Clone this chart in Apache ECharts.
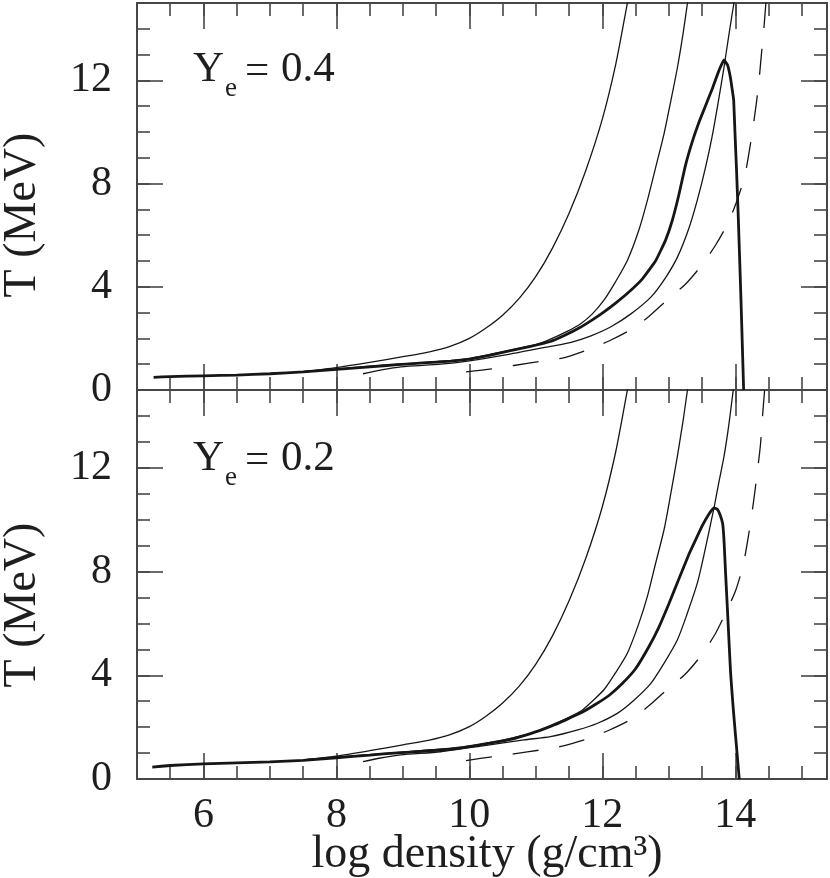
<!DOCTYPE html>
<html>
<head>
<meta charset="utf-8">
<script src="https://cdn.jsdelivr.net/npm/echarts@6/dist/echarts.min.js"></script>
<style>
html,body{margin:0;padding:0;background:#fff;}
#chart{width:830px;height:878px;}
</style>
</head>
<body>
<div id="chart"></div>
<script>
// ---- axis ticks / labels ----
const xMajorTicks = [6, 8, 10, 12, 14];
const yMajorTicks = [0, 4, 8, 12];
const xRange = [5, 15.38];
const yRange = [0, 15];
const xTitle = 'log density (g/cm³)';
const yTitle = 'T (MeV)';
const panelLabels = ['0.4', '0.2'];

// ---- top panel (Ye = 0.4) ----
const topThick = [[5.25,0.49],[5.5,0.52],[6.0,0.55],[6.5,0.58],[7.0,0.63],[7.5,0.70],[8.0,0.80],[8.5,0.90],[8.92,0.98],[9.3,1.05],[9.72,1.12],[10.0,1.2],[10.3,1.34],[10.6,1.52],[10.92,1.69],[11.22,1.88],[11.42,2.1],[11.65,2.4],[11.85,2.72],[12.0,2.98],[12.2,3.37],[12.4,3.8],[12.6,4.3],[12.8,5.0],[12.95,5.8],[13.05,6.55],[13.15,7.55],[13.25,8.7],[13.35,9.6],[13.45,10.35],[13.55,11.0],[13.65,11.65],[13.75,12.35],[13.83,12.79],[13.885,12.59],[13.925,12.14],[13.955,11.63],[13.976,11.24],[13.996,9.95],[14.021,8.4],[14.045,6.72],[14.086,3.5],[14.126,0.0]];
const topA = [[7.5,0.71],[8.0,0.87],[8.5,1.07],[9.0,1.29],[9.4,1.48],[9.7,1.68],[10.0,2.0],[10.25,2.4],[10.5,2.9],[10.75,3.55],[11.0,4.4],[11.25,5.5],[11.5,6.85],[11.75,8.5],[12.0,10.5],[12.2,12.6],[12.37,14.9],[12.45,16.0]];
const topB = [[7.5,0.71],[8.0,0.81],[8.5,0.92],[9.0,1.01],[9.5,1.1],[10.0,1.22],[10.5,1.48],[11.0,1.76],[11.22,1.97],[11.47,2.27],[11.68,2.58],[11.85,2.95],[12.03,3.5],[12.2,4.2],[12.38,5.04],[12.55,6.2],[12.68,7.37],[12.8,8.6],[12.93,9.95],[13.03,11.2],[13.13,12.5],[13.22,13.9],[13.28,14.98],[13.32,15.6]];
const topC = [[8.4,0.63],[8.64,0.76],[8.97,0.9],[9.57,1.0],[10.0,1.13],[10.57,1.37],[11.22,1.69],[11.53,1.85],[11.83,2.1],[12.13,2.45],[12.43,2.95],[12.73,3.6],[12.95,4.35],[13.13,5.15],[13.3,6.25],[13.43,7.37],[13.55,8.6],[13.65,9.8],[13.74,11.1],[13.83,12.5],[13.9,13.7],[13.98,15.0],[14.02,15.6]];
const topDash = [[9.95,0.70],[10.35,0.82],[10.67,0.95],[11.07,1.11],[11.4,1.24],[11.78,1.56],[12.1,1.9],[12.43,2.34],[12.7,2.85],[12.98,3.5],[13.25,4.1],[13.48,4.79],[13.7,5.6],[13.89,6.47],[14.02,7.3],[14.14,8.27],[14.22,9.4],[14.29,10.6],[14.35,11.8],[14.39,12.92],[14.43,14.0],[14.46,14.98],[14.48,15.6]];

// ---- bottom panel (Ye = 0.2) ----
const botThick = [[5.23,0.46],[5.5,0.52],[6.0,0.58],[6.5,0.62],[7.0,0.66],[7.5,0.72],[8.0,0.82],[8.5,0.92],[8.92,1.01],[9.3,1.07],[9.72,1.15],[9.92,1.22],[10.3,1.38],[10.62,1.53],[10.92,1.75],[11.22,2.03],[11.45,2.28],[11.68,2.55],[11.9,2.88],[12.1,3.22],[12.3,3.68],[12.5,4.25],[12.7,5.1],[12.85,5.85],[13.0,6.75],[13.15,7.7],[13.3,8.65],[13.4,9.2],[13.5,9.75],[13.6,10.2],[13.68,10.45],[13.73,10.4],[13.77,10.2],[13.81,9.85],[13.83,9.23],[13.855,7.9],[13.88,6.65],[13.905,5.35],[13.93,4.08],[13.97,2.7],[14.01,1.5],[14.06,0.0]];
const botA = [[7.5,0.74],[8.0,0.88],[8.5,1.09],[9.0,1.32],[9.4,1.5],[9.7,1.7],[10.0,2.02],[10.25,2.42],[10.5,2.93],[10.75,3.58],[11.0,4.43],[11.25,5.52],[11.5,6.87],[11.75,8.5],[12.0,10.5],[12.2,12.6],[12.37,14.9],[12.45,16.0]];
const botB = [[7.5,0.74],[8.0,0.84],[8.5,0.94],[9.0,1.04],[9.5,1.14],[10.0,1.27],[10.5,1.5],[11.0,1.82],[11.22,2.05],[11.45,2.32],[11.68,2.62],[11.85,3.0],[12.03,3.46],[12.2,4.1],[12.38,4.87],[12.55,6.0],[12.68,7.06],[12.8,8.3],[12.93,9.63],[13.03,11.0],[13.13,12.46],[13.22,13.9],[13.28,14.98],[13.32,15.6]];
const botC = [[8.4,0.67],[8.64,0.8],[8.97,0.93],[9.57,1.05],[10.2,1.28],[10.82,1.51],[11.22,1.63],[11.63,1.89],[11.93,2.15],[12.23,2.54],[12.48,3.05],[12.73,3.69],[12.93,4.47],[13.13,5.37],[13.28,6.4],[13.43,7.56],[13.53,8.65],[13.63,9.85],[13.68,10.45],[13.75,11.4],[13.83,12.43],[13.9,13.6],[13.96,14.8],[14.0,15.6]];
const botDash = [[9.95,0.71],[10.35,0.86],[10.67,0.97],[11.07,1.12],[11.4,1.27],[11.78,1.55],[12.1,1.88],[12.43,2.3],[12.7,2.82],[12.98,3.46],[13.25,4.05],[13.48,4.74],[13.7,5.6],[13.88,6.54],[14.01,7.3],[14.12,8.27],[14.2,9.4],[14.27,10.6],[14.33,11.8],[14.38,12.92],[14.41,14.0],[14.44,14.95],[14.46,15.6]];

const FONT = 'Liberation Serif';
const AX = '#474747';
const INK = '#161616';

const grids = [
  {left: 137, top: 3, width: 690, height: 387},
  {left: 137, top: 390, width: 690, height: 389}
];

const xAxes = [], yAxes = [];
function addAxes(gi, showXLabels) {
  const base = {gridIndex: gi, type: 'value', splitLine: {show: false}};
  ['bottom', 'top'].forEach(function (pos) {
    xAxes.push(Object.assign({}, base, {
      min: xRange[0], max: xRange[1], position: pos,
      axisLine: {show: true, onZero: false, lineStyle: {color: AX, width: 2}},
      axisTick: {show: true, inside: true, length: 26, customValues: xMajorTicks, lineStyle: {color: AX, width: 1.6}},
      axisLabel: {show: showXLabels && pos === 'bottom', customValues: xMajorTicks, margin: 16,
        color: '#1e1e1e', fontFamily: FONT, fontSize: 42}
    }));
    xAxes.push(Object.assign({}, base, {
      min: xRange[0], max: xRange[1], interval: 0.5, position: pos,
      axisLine: {show: false, onZero: false},
      axisTick: {show: true, inside: true, length: 13, lineStyle: {color: AX, width: 1.6}},
      axisLabel: {show: false}
    }));
  });
  ['left', 'right'].forEach(function (pos) {
    yAxes.push(Object.assign({}, base, {
      min: yRange[0], max: yRange[1], position: pos,
      axisLine: {show: true, onZero: false, lineStyle: {color: AX, width: 2}},
      axisTick: {show: true, inside: true, length: 26, customValues: yMajorTicks, lineStyle: {color: AX, width: 1.6}},
      axisLabel: {show: pos === 'left', customValues: yMajorTicks, margin: 25,
        color: '#1e1e1e', fontFamily: FONT, fontSize: 42}
    }));
    yAxes.push(Object.assign({}, base, {
      min: yRange[0], max: yRange[1], interval: 1, position: pos,
      axisLine: {show: false, onZero: false},
      axisTick: {show: true, inside: true, length: 13, lineStyle: {color: AX, width: 1.6}},
      axisLabel: {show: false}
    }));
  });
}
addAxes(0, false);
addAxes(1, true);

function line(data, gi, kind) {
  const s = {
    type: 'line', data: data, xAxisIndex: gi * 4, yAxisIndex: gi * 4,
    showSymbol: false, symbol: 'none', smooth: 0.25, clip: true, silent: true,
    lineStyle: {color: INK, width: 1.3}, z: 3
  };
  if (kind === 'thick') { s.lineStyle.width = 2.8; s.z = 5; s.smooth = 0.12; }
  if (kind === 'dash') { s.lineStyle.type = [26, 21]; }
  return s;
}

const series = [
  line(topA, 0), line(topB, 0), line(topC, 0), line(topDash, 0, 'dash'), line(topThick, 0, 'thick'),
  line(botA, 1), line(botB, 1), line(botC, 1), line(botDash, 1, 'dash'), line(botThick, 1, 'thick')
];

function txt(t, x, y, size, extra) {
  return Object.assign({type: 'text', x: x, y: y, silent: true,
    style: {text: t, fill: '#1e1e1e', font: size + 'px "' + FONT + '"', textAlign: 'left', textVerticalAlign: 'middle'}}, extra || {});
}
const graphic = [];
[0, 1].forEach(function (gi) {
  const dy = gi === 0 ? 0 : 389;
  graphic.push(txt('Y', 193, 70 + dy, 43));
  graphic.push(txt('e', 225, 89 + dy, 27));
  graphic.push(txt('=', 245, 72 + dy, 43));
  graphic.push(txt(panelLabels[gi], 281, 70 + dy, 43));
  const yt = txt(yTitle, 23, (gi === 0 ? 215 : 605), 46, {rotation: Math.PI / 2});
  yt.style.textAlign = 'center';
  graphic.push(yt);
});
const xt = txt(xTitle, 487, 855, 46);
xt.style.textAlign = 'center';
graphic.push(xt);

const chart = echarts.init(document.getElementById('chart'), null, {renderer: 'canvas'});
chart.setOption({
  animation: false,
  backgroundColor: '#ffffff',
  grid: grids,
  xAxis: xAxes,
  yAxis: yAxes,
  series: series,
  graphic: graphic
});
</script>
</body>
</html>
